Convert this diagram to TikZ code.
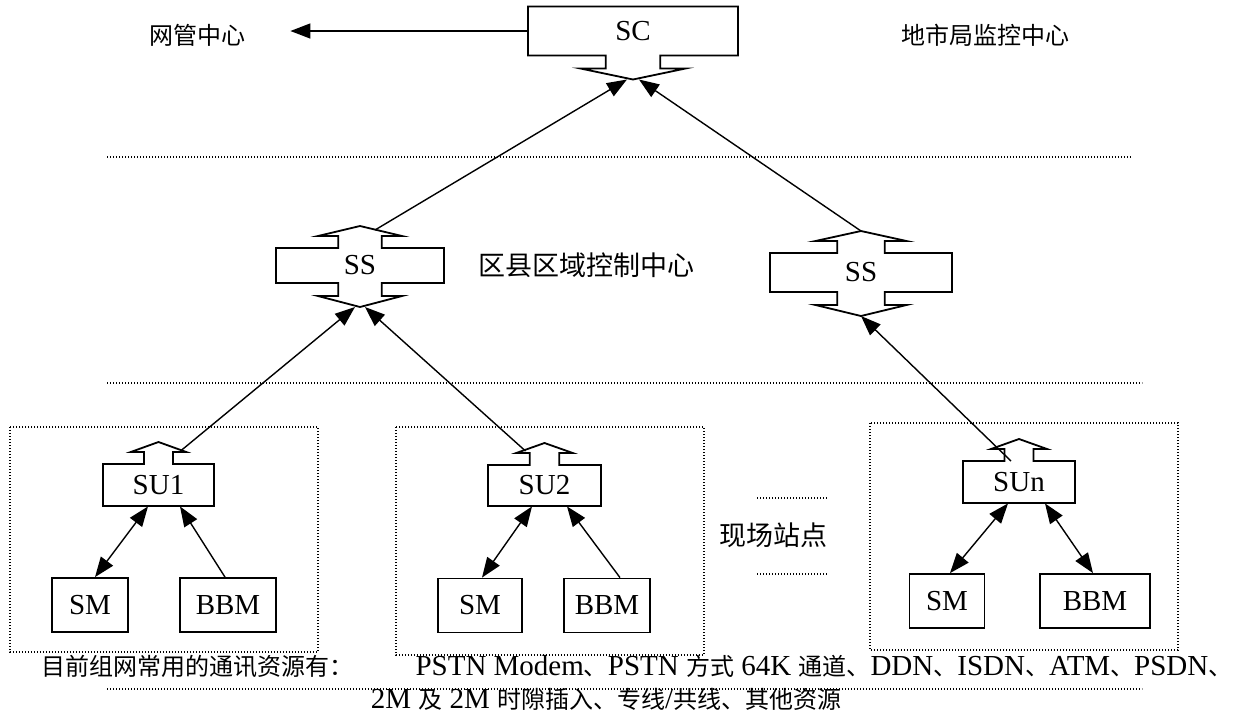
\documentclass[tikz,border=0pt]{standalone}
\usepackage{fontspec}
\setmainfont{Liberation Serif}
\newfontfamily\cjk{Noto Sans CJK SC}
\usetikzlibrary{arrows.meta,calc}

\newcommand{\zhtext}[1]{{\cjk\fontsize{12pt}{14pt}\selectfont #1}}

\tikzset{
  hubline/.style={line width=0.9pt, line join=miter},
  hubtext/.style={inner sep=0pt, font=\fontsize{14.5pt}{17pt}\selectfont},
  leaf/.style={draw, line width=0.9pt, minimum height=27pt, inner sep=0pt, font=\fontsize{14.5pt}{17pt}\selectfont},
  arr/.style={line width=0.7pt, -{Triangle[length=10pt,width=7.5pt]}},
  arrs/.style={line width=0.7pt, {Triangle[length=10pt,width=7.5pt]}-{Triangle[length=10pt,width=7.5pt]}},
  dots/.style={line width=0.6pt, dash pattern=on 0.6pt off 0.9pt},
  zh/.style={inner sep=0pt, font=\cjk\fontsize{12pt}{14pt}\selectfont},
  zhbig/.style={inner sep=0pt, font=\cjk\fontsize{13.5pt}{16pt}\selectfont},
}

% box with block arrows: name, x, y, half width, half height, arrow up, arrow down, text
\newcommand{\hubbox}[8]{%
  \pgfmathsetmacro{\hubs}{0.26*#4}%
  \pgfmathsetmacro{\huba}{0.5*#4}%
  \ifnum#6=1
    \def\hubtop{-- ({#2-\hubs},{#3-#5}) -- ({#2-\hubs},{#3-#5-12}) -- ({#2-\huba},{#3-#5-12}) -- (#2,{#3-#5-22}) -- ({#2+\huba},{#3-#5-12}) -- ({#2+\hubs},{#3-#5-12}) -- ({#2+\hubs},{#3-#5})}%
    \coordinate (#1-up) at (#2,{#3-#5-22});
  \else\def\hubtop{}\fi
  \ifnum#7=1
    \def\hubbot{-- ({#2+\hubs},{#3+#5}) -- ({#2+\hubs},{#3+#5+13}) -- ({#2+\huba},{#3+#5+13}) -- (#2,{#3+#5+24}) -- ({#2-\huba},{#3+#5+13}) -- ({#2-\hubs},{#3+#5+13}) -- ({#2-\hubs},{#3+#5})}%
    \coordinate (#1-down) at (#2,{#3+#5+24});
  \else\def\hubbot{}\fi
  \draw[hubline] ({#2-#4},{#3-#5}) \hubtop -- ({#2+#4},{#3-#5}) -- ({#2+#4},{#3+#5}) \hubbot -- ({#2-#4},{#3+#5}) -- cycle;
  \node[hubtext, minimum width=#4pt, minimum height=#5pt] (#1) at (#2,#3) {#8};
}

\begin{document}
\begin{tikzpicture}[x=0.5pt, y=-0.5pt]
    \useasboundingbox (0,0) rectangle (1239,714);

    % levels
    \draw[dots] (107,157) -- (1132,157);
    \draw[dots] (107,383) -- (1142,383);
    \draw[dots] (107,689) -- (1142,689);
    \draw[dots] (757,498) -- (828,498);
    \draw[dots] (757,574) -- (828,574);

    % site groups
    \draw[dots] (10,427) rectangle (318,652);
    \draw[dots] (396,427) rectangle (704,655);
    \draw[dots] (870,423) rectangle (1178,650);

    \hubbox{sc}{633}{31}{105}{24.5}{0}{1}{SC}
    \hubbox{ssl}{360}{265.5}{84}{17.5}{1}{1}{SS}
    \hubbox{ssr}{861}{272.5}{91}{19.5}{1}{1}{SS}
    \hubbox{su1}{158.5}{485}{55.5}{21}{1}{0}{SU1}
    \hubbox{su2}{544.5}{485.5}{56.5}{20.5}{1}{0}{SU2}
    \hubbox{sun}{1019}{482}{56}{21}{1}{0}{SUn}

    \node[leaf, minimum width=38pt] (sm1) at (90,605) {SM};
    \node[leaf, minimum width=48pt] (bbm1) at (228,605) {BBM};
    \node[leaf, minimum width=42pt] (sm2) at (480,605.5) {SM};
    \node[leaf, minimum width=43pt] (bbm2) at (607,605.5) {BBM};
    \node[leaf, minimum width=37.5pt] (sm3) at (947,601) {SM};
    \node[leaf, minimum width=55pt] (bbm3) at (1095,601) {BBM};

    \node[zh] (wg) at (197,35) {网管中心};
    \node[zh] (ds) at (985,35) {地市局监控中心};
    \node[zhbig] (qx) at (586,265) {区县区域控制中心};
    \node[zhbig] (xc) at (773,535) {现场站点};

    \draw[arr, shorten >=22.5pt] (sc.west) -- (sc.west -| wg.east);

    \draw[arr] ($(ssl-up)+(15,4)$) -- ($(sc-down)+(-6,0)$);
    \draw[arr] (ssr-up) -- ($(sc-down)+(6,0)$);
    \draw[arr] ($(su1-up)+(22,9)$) -- ($(ssl-down)+(-5,0)$);
    \draw[arr] ($(su2-up)+(-19,8)$) -- ($(ssl-down)+(5,0)$);
    \draw[arr] ($(sun-up)+(-8,22)$) -- (ssr-down);

    \draw[arrs] ($(sm1.north)+(5,0)$) -- ($(su1.south)+(-10.5,0)$);
    \draw[arr] ($(bbm1.north)+(-3,0)$) -- ($(su1.south)+(21.5,0)$);
    \draw[arrs] ($(sm2.north)+(2,0)$) -- ($(su2.south)+(-12.5,0)$);
    \draw[arr] ($(bbm2.north)+(13,0)$) -- ($(su2.south)+(22.5,0)$);
    \draw[arrs] ($(sm3.north)+(3,0)$) -- ($(sun.south)+(-11,0)$);
    \draw[arrs] ($(bbm3.north)+(-2,0)$) -- ($(sun.south)+(26,0)$);

    % resources
    \node[anchor=west, inner sep=0pt, font=\fontsize{14.5pt}{17pt}\selectfont] (res1) at (41,666)
      {\makebox[595.5pt]{\zhtext{目前组网常用的通讯资源有：}\hfill PSTN Modem\zhtext{、}PSTN \zhtext{方式} 64K \zhtext{通道、}DDN\zhtext{、}ISDN\zhtext{、}ATM\zhtext{、}PSDN\zhtext{、}}};
    \node[inner sep=0pt, font=\fontsize{14.5pt}{17pt}\selectfont] (res2) at (606,699)
      {2M \zhtext{及} 2M \zhtext{时隙插入、专线}/\zhtext{共线、其他资源}};
\end{tikzpicture}
\end{document}
